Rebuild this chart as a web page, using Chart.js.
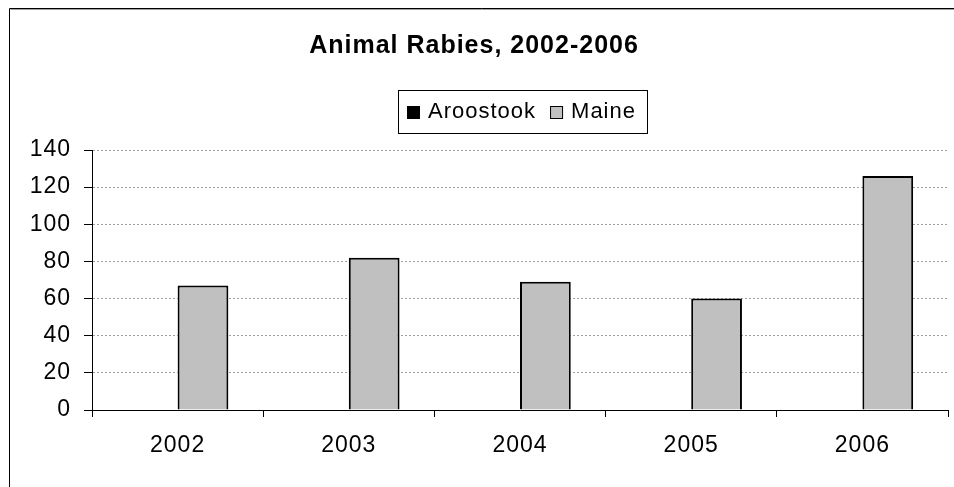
<!DOCTYPE html>
<html>
<head>
  <meta charset="UTF-8">
  <title>Animal Rabies, 2002-2006</title>
  <script src="https://cdn.jsdelivr.net/npm/chart.js"></script>
  <style>
    html, body { margin: 0; padding: 0; background: #fff; }
  </style>
</head>
<body>
  <canvas id="rabiesChart" width="954" height="487"></canvas>

  <script>
    // values
    const years = ['2002', '2003', '2004', '2005', '2006'];
    const aroostook = [0, 0, 0, 0, 0];
    const maine = [67, 82, 69, 60, 126];
    const yMax = 140;
    const yStep = 20;

    const FONT = '"Liberation Sans", Arial, sans-serif';

    // Excel-ish wide text: canvas letter spacing (reset on every resize, so set it each pass)
    const spacing = {
      id: 'spacing',
      beforeUpdate(chart) { chart.ctx.letterSpacing = '1px'; },
      beforeLayout(chart) { chart.ctx.letterSpacing = '1px'; },
      beforeDraw(chart) { chart.ctx.letterSpacing = '1px'; }
    };

    // outer chart frame, only left and top edges are visible in the picture
    const frame = {
      id: 'frame',
      afterDraw(chart) {
        const ctx = chart.ctx;
        ctx.save();
        ctx.strokeStyle = '#000';
        ctx.lineWidth = 1;
        ctx.beginPath();
        ctx.moveTo(9.5, chart.height);
        ctx.lineTo(9.5, 8.5);
        ctx.lineTo(chart.width, 8.5);
        ctx.stroke();
        ctx.strokeStyle = '#a0a0a0';
        ctx.beginPath();
        ctx.moveTo(10.5, 9.5);
        ctx.lineTo(chart.width, 9.5);
        ctx.stroke();
        ctx.restore();
      }
    };

    // boxed legend between title and plot
    const boxLegend = {
      id: 'boxLegend',
      afterDraw(chart) {
        const ctx = chart.ctx;
        ctx.save();
        ctx.letterSpacing = '1px';
        ctx.font = '22px ' + FONT;
        const items = chart.data.datasets.map(ds => ({
          label: ds.label,
          color: ds.backgroundColor,
          w: ctx.measureText(ds.label).width
        }));
        const box = 13, gap = 8, itemGap = 14;
        const total = items.reduce((s, it) => s + box + gap + it.w, 0) + itemGap * (items.length - 1);
        const ca = chart.chartArea;
        let x = Math.round((ca.left + ca.right) / 2 - total / 2) + 1;
        const cy = 112;

        ctx.strokeStyle = '#000';
        ctx.lineWidth = 1;
        ctx.strokeRect(x - 9 + 0.5, 90.5, Math.round(total + 9 + 11), 43);

        items.forEach(it => {
          ctx.fillStyle = it.color;
          ctx.fillRect(x, cy - 6, box, box);
          ctx.strokeRect(x + 0.5, cy - 6 + 0.5, box - 1, box - 1);
          ctx.fillStyle = '#000';
          ctx.textBaseline = 'middle';
          ctx.textAlign = 'left';
          ctx.fillText(it.label, x + box + gap, cy);
          x += box + gap + it.w + itemGap;
        });
        ctx.restore();
      }
    };

    const ctx = document.getElementById('rabiesChart').getContext('2d');
    const rabiesChart = new Chart(ctx, {
      type: 'bar',
      data: {
        labels: years,
        datasets: [
          {
            label: 'Aroostook',
            data: aroostook,
            backgroundColor: '#000000',
            borderColor: '#000000',
            borderWidth: 0
          },
          {
            label: 'Maine',
            data: maine,
            backgroundColor: '#c0c0c0',
            borderColor: '#000000',
            borderWidth: 2
          }
        ]
      },
      options: {
        responsive: false,
        animation: false,
        layout: { padding: { left: 0, right: 6, top: 0, bottom: 0 } },
        datasets: {
          bar: { categoryPercentage: 0.593, barPercentage: 1 }
        },
        plugins: {
          legend: { display: false },
          tooltip: { enabled: false },
          title: {
            display: true,
            text: 'Animal Rabies, 2002-2006',
            color: '#000',
            font: { family: FONT, size: 25, weight: 'bold' },
            padding: { top: 31, bottom: 89 }
          }
        },
        scales: {
          x: {
            grid: {
              offset: true,
              drawOnChartArea: false,
              drawTicks: true,
              tickLength: 7,
              tickColor: '#000'
            },
            border: { display: true, color: '#000', width: 1 },
            ticks: { color: '#000', font: { family: FONT, size: 23 }, padding: 15 },
            afterFit(scale) { scale.height = 77; }
          },
          y: {
            min: 0,
            max: yMax,
            ticks: { stepSize: yStep, color: '#000', font: { family: FONT, size: 23 }, padding: 13 },
            grid: {
              color: '#a0a0a0',
              tickColor: '#000',
              tickLength: 8,
              tickBorderDash: []
            },
            border: { display: true, color: '#000', width: 1, dash: [2, 2] },
            afterFit(scale) { scale.width = 92; }
          }
        }
      },
      plugins: [spacing, frame, boxLegend]
    });
  </script>
</body>
</html>
